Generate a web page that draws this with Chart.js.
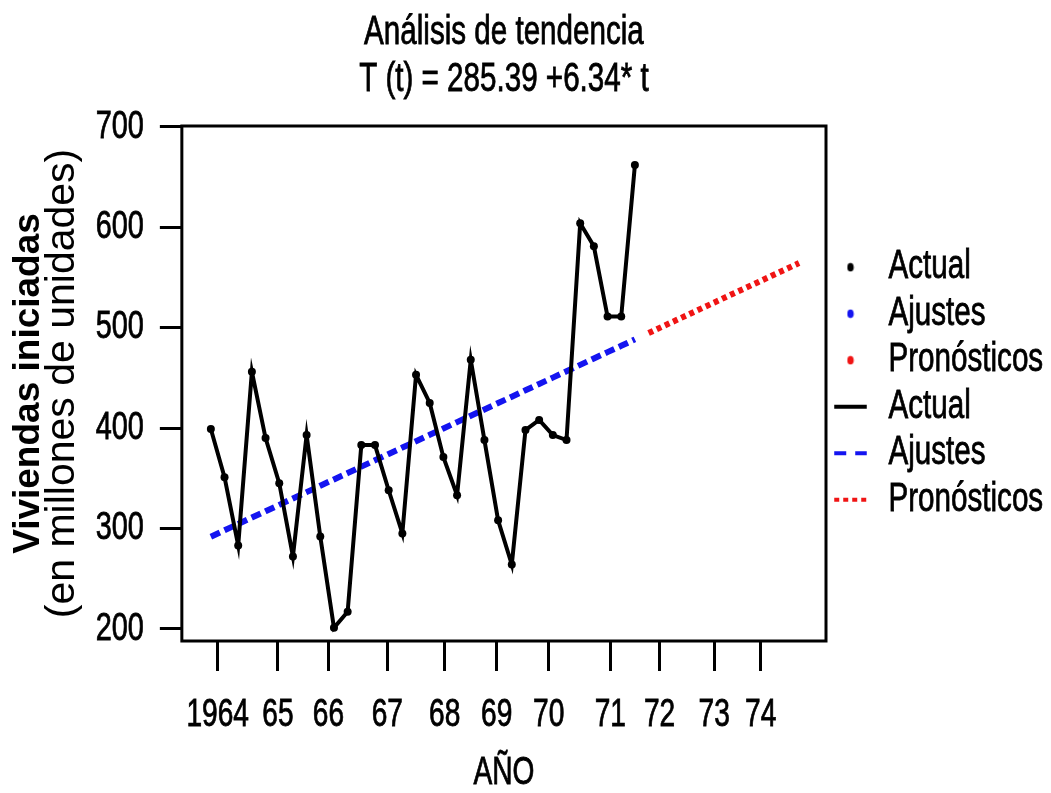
<!DOCTYPE html>
<html>
<head>
<meta charset="utf-8">
<script src="https://cdn.jsdelivr.net/npm/chart.js@4.4.1/dist/chart.umd.min.js"></script>
<style>
  html, body { margin: 0; padding: 0; background: #fff; }
  #wrap { width: 1051px; height: 793px; position: relative; }
</style>
</head>
<body>
<div id="wrap"><canvas id="chart"></canvas></div>
<script>
// quarterly housing starts 1964-1971, trend fit and forecast
const actualValues = [399, 351, 283, 456, 390, 345, 272, 393, 292, 201, 217, 383, 383, 338, 295, 453,
                      425, 371, 333, 468, 388, 308, 264, 398, 408, 393, 388, 604, 581, 511, 511, 662];
const fitValues = [291.7, 298.1, 304.4, 310.8, 317.1, 323.4, 329.8, 336.1, 342.5, 348.8, 355.1, 361.5,
                   367.8, 374.2, 380.5, 386.8, 393.2, 399.5, 405.9, 412.2, 418.5, 424.9, 431.2, 437.6,
                   443.9, 450.2, 456.6, 462.9, 469.3, 475.6, 481.9, 488.3];
const forecastValues = [494.6, 501.0, 507.3, 513.6, 520.0, 526.3, 532.7, 539.0, 545.3, 551.7, 558.0, 564.4];
const yearLabels = ['1964', '65', '66', '67', '68', '69', '70', '71', '72', '73', '74'];
const yearTickPositions = [1.5, 5.9, 9.6, 13.9, 18.1, 21.9, 25.7, 30.2, 33.8, 37.8, 41.2];
const yTickValues = [200, 300, 400, 500, 600, 700];
const legendLabels = ['Actual', 'Ajustes', 'Pronósticos', 'Actual', 'Ajustes', 'Pronósticos'];

// no narrow font installed: text set in this family gets squeezed horizontally
const NARROW = '"Liberation Sans Narrow", "Liberation Sans", Arial, sans-serif';
const WIDE = '"Liberation Sans", Arial, sans-serif';
const SQUEEZE = 0.74;

const BLACK = '#000000';
const BLUE = '#1414f0';
const RED = '#f01414';

const canvas = document.getElementById('chart');
const ctx = canvas.getContext('2d');

const baseFillText = ctx.fillText.bind(ctx);
const baseMeasureText = ctx.measureText.bind(ctx);
const isNarrow = () => ctx.font.indexOf('Narrow') !== -1;
ctx.fillText = function (text, x, y, maxWidth) {
  if (!isNarrow()) return baseFillText(text, x, y, maxWidth);
  ctx.save();
  ctx.translate(x, y);
  ctx.scale(SQUEEZE, 1);
  // a light outline keeps the squeezed strokes as heavy as the original print
  ctx.strokeStyle = ctx.fillStyle;
  ctx.lineWidth = 0.8;
  ctx.setLineDash([]);
  ctx.strokeText(text, 0, 0);
  baseFillText(text, 0, 0);
  ctx.restore();
};
ctx.measureText = function (text) {
  const m = baseMeasureText(text);
  if (!isNarrow()) return m;
  return {
    width: m.width * SQUEEZE,
    actualBoundingBoxAscent: m.actualBoundingBoxAscent,
    actualBoundingBoxDescent: m.actualBoundingBoxDescent,
    actualBoundingBoxLeft: m.actualBoundingBoxLeft * SQUEEZE,
    actualBoundingBoxRight: m.actualBoundingBoxRight * SQUEEZE
  };
};

// quarter number t for each value
const actualPts = actualValues.map((v, i) => ({ x: i + 1, y: v }));
const fitPts = fitValues.map((v, i) => ({ x: i + 1, y: v }));
const forecastPts = forecastValues.map((v, i) => ({ x: fitValues.length + 1 + i, y: v }));

function dot(color) {
  const c = document.createElement('canvas');
  c.width = 8; c.height = 10;
  const g = c.getContext('2d');
  g.fillStyle = color;
  g.beginPath();
  g.ellipse(4, 5, 3.2, 4.3, 0, 0, Math.PI * 2);
  g.fill();
  return c;
}

const legendStyles = [
  { pointStyle: dot(BLACK), strokeStyle: BLACK, lineWidth: 0, lineDash: [] },
  { pointStyle: dot(BLUE), strokeStyle: BLUE, lineWidth: 0, lineDash: [] },
  { pointStyle: dot(RED), strokeStyle: RED, lineWidth: 0, lineDash: [] },
  { pointStyle: 'line', strokeStyle: BLACK, lineWidth: 4, lineDash: [] },
  { pointStyle: 'line', strokeStyle: BLUE, lineWidth: 4, lineDash: [12, 9] },
  { pointStyle: 'line', strokeStyle: RED, lineWidth: 4, lineDash: [5, 4] }
];

// box around the plotting area
const framePlugin = {
  id: 'frame',
  afterDatasetsDraw(chart) {
    const { ctx, chartArea: a } = chart;
    ctx.save();
    ctx.strokeStyle = BLACK;
    ctx.lineWidth = 3;
    ctx.strokeRect(a.left, a.top, a.right - a.left, a.bottom - a.top);
    ctx.restore();
  }
};

new Chart(ctx, {
  type: 'line',
  data: {
    datasets: [
      {
        label: 'Actual',
        data: actualPts,
        borderColor: BLACK,
        backgroundColor: BLACK,
        borderWidth: 4,
        pointRadius: 4,
        pointBorderWidth: 0,
        tension: 0
      },
      {
        label: 'Ajustes',
        data: fitPts,
        borderColor: BLUE,
        backgroundColor: BLUE,
        borderWidth: 6,
        borderDash: [10, 5],
        pointRadius: 0,
        tension: 0
      },
      {
        label: 'Pronósticos',
        data: forecastPts,
        borderColor: RED,
        backgroundColor: RED,
        borderWidth: 6,
        borderDash: [5, 4],
        pointRadius: 0,
        tension: 0
      }
    ]
  },
  options: {
    responsive: true,
    maintainAspectRatio: false,
    animation: false,
    layout: { padding: { top: 0, right: 0, bottom: 0, left: 13.4 } },
    plugins: {
      tooltip: { enabled: false },
      title: {
        display: true,
        fullSize: false,
        text: ['Análisis de tendencia', 'T (t) = 285.39 +6.34* t'],
        color: BLACK,
        font: { family: NARROW, size: 40, weight: 'normal', lineHeight: 1.175 },
        padding: { top: 9.5, bottom: 22.5 }
      },
      legend: {
        position: 'right',
        fullSize: false,
        maxWidth: 225,
        labels: {
          usePointStyle: true,
          boxWidth: 36,
          boxHeight: 23,
          padding: 6.5,
          color: BLACK,
          font: { family: NARROW, size: 40 },
          generateLabels: () => legendLabels.map((text, i) => ({
            text,
            fillStyle: legendStyles[i].strokeStyle,
            strokeStyle: legendStyles[i].strokeStyle,
            lineWidth: legendStyles[i].lineWidth,
            lineDash: legendStyles[i].lineDash,
            pointStyle: legendStyles[i].pointStyle,
            fontColor: BLACK,
            hidden: false,
            datasetIndex: i % 3
          }))
        }
      }
    },
    scales: {
      x: {
        type: 'linear',
        min: -1.12,
        max: 45.97,
        afterBuildTicks: (scale) => { scale.ticks = yearTickPositions.map(v => ({ value: v })); },
        ticks: {
          color: BLACK,
          padding: 26,
          maxRotation: 0,
          autoSkip: false,
          font: { family: NARROW, size: 38, lineHeight: 1.0 },
          callback: (v, i) => yearLabels[i]
        },
        grid: { drawOnChartArea: false, drawTicks: true, tickLength: 30, tickWidth: 3, tickColor: BLACK },
        border: { display: false },
        title: {
          display: true,
          text: 'AÑO',
          color: BLACK,
          font: { family: NARROW, size: 38, lineHeight: 1.0 },
          padding: { top: -6, bottom: 0 }
        }
      },
      y: {
        type: 'linear',
        min: 187.8,
        max: 700.9,
        afterBuildTicks: (scale) => { scale.ticks = yTickValues.map(v => ({ value: v })); },
        ticks: {
          color: BLACK,
          padding: 16,
          font: { family: NARROW, size: 39 }
        },
        grid: { drawOnChartArea: false, drawTicks: true, tickLength: 22, tickWidth: 3, tickColor: BLACK },
        border: { display: false },
        title: {
          display: true,
          text: '(en millones de unidades)',
          color: BLACK,
          font: { family: WIDE, size: 41, lineHeight: 0.85 },
          padding: { top: 0, bottom: 0 }
        }
      },
      yTitle: {
        type: 'linear',
        position: 'left',
        weight: 1,
        ticks: { display: false },
        grid: { display: false, drawTicks: false },
        border: { display: false },
        title: {
          display: true,
          text: 'Viviendas iniciadas',
          color: BLACK,
          font: { family: WIDE, size: 37, weight: 'bold', lineHeight: 0.85 },
          padding: { top: 0, bottom: 0 }
        }
      }
    }
  },
  plugins: [framePlugin]
});
</script>
</body>
</html>
